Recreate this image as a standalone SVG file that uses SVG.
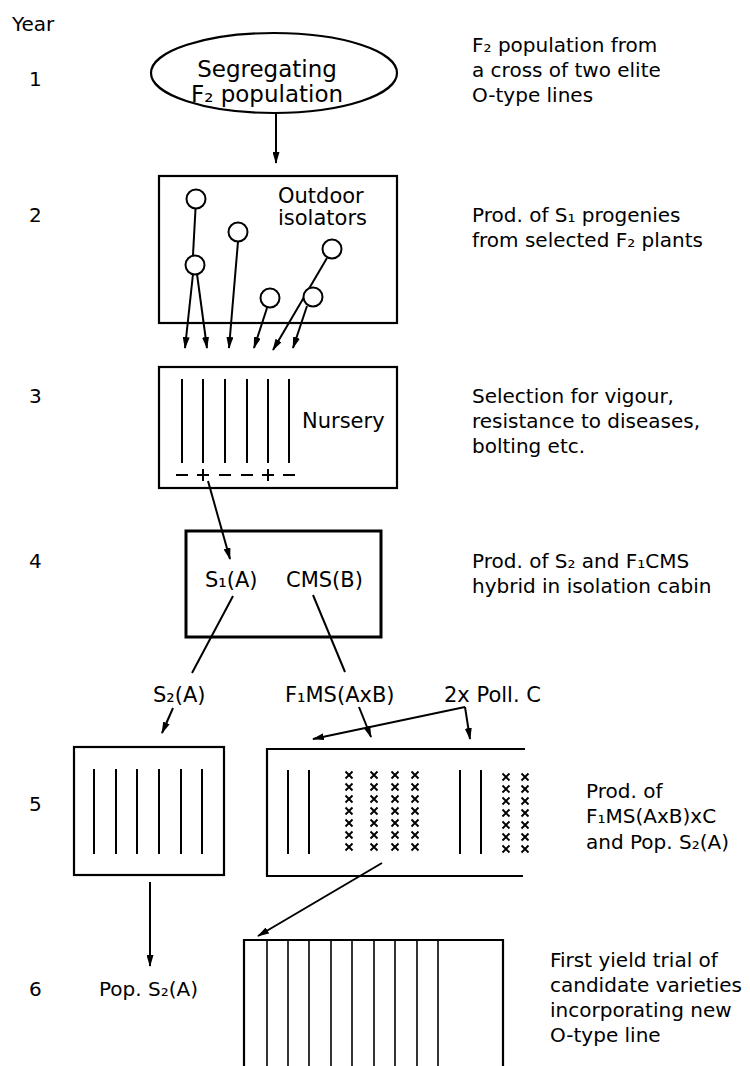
<svg xmlns="http://www.w3.org/2000/svg" width="750" height="1066" viewBox="0 0 750 1066">
<defs>
<marker id="ah" markerWidth="12" markerHeight="7" refX="11" refY="3.5" orient="auto" markerUnits="userSpaceOnUse"><path d="M0,0 L12,3.5 L0,7 z" fill="#000"/></marker>
<!-- plant marker used in the hybrid seed plot -->
<path id="cross" d="M-3.5,-3.5 L3.5,3.5 M3.5,-3.5 L-3.5,3.5" stroke="#000" stroke-width="1.9" fill="none"/>
</defs>
<style>
text{font-family:"DejaVu Sans",Verdana,sans-serif;font-size:20px;fill:#000}
.lbl{font-size:21px}
.big{font-size:23px;text-anchor:middle}
.box{fill:none;stroke:#000;stroke-width:2.2}
.heavy{fill:none;stroke:#000;stroke-width:3}
.row{stroke:#000;stroke-width:2}
.thin{stroke:#000;stroke-width:1.6}
.con{stroke:#000;stroke-width:2;fill:none}
.arr{marker-end:url(#ah)}
.plant{fill:#fff;stroke:#000;stroke-width:2}
</style>
<rect width="750" height="1066" fill="#fff"/>

<!-- year column -->
<g id="years">
<text x="12" y="31">Year</text>
<text x="29" y="86">1</text>
<text x="29" y="222">2</text>
<text x="29" y="403">3</text>
<text x="29" y="568">4</text>
<text x="29" y="811">5</text>
<text x="29" y="996">6</text>
</g>

<!-- connectors -->
<g id="connectors">
<line class="con arr" x1="276" y1="113" x2="276" y2="163"/>
<line class="con" x1="195.5" y1="209" x2="193" y2="255"/>
<line class="con arr" x1="193" y1="274" x2="185" y2="348"/>
<line class="con arr" x1="197" y1="274" x2="207" y2="348"/>
<line class="con arr" x1="238" y1="241.5" x2="229" y2="348"/>
<line class="con arr" x1="267" y1="308" x2="254" y2="348"/>
<line class="con arr" x1="327" y1="258" x2="273" y2="350"/>
<line class="con arr" x1="307" y1="306" x2="293" y2="348"/>
<line class="con arr" x1="208" y1="481" x2="230" y2="559"/>
<line class="con" x1="233" y1="596" x2="192" y2="673"/>
<line class="con" x1="313" y1="595" x2="345" y2="672"/>
<line class="con arr" x1="173" y1="708" x2="162" y2="733"/>
<line class="con arr" x1="359" y1="707" x2="371" y2="737"/>
<line class="con arr" x1="465" y1="707" x2="313" y2="739"/>
<line class="con arr" x1="465" y1="707" x2="470" y2="739"/>
<line class="con arr" x1="150" y1="882" x2="150" y2="966"/>
<line class="con arr" x1="382" y1="863" x2="258" y2="936"/>
</g>

<!-- year 1: segregating population -->
<g id="f2-population">
<ellipse cx="274" cy="73" rx="123" ry="40" class="box"/>
<text x="267" y="77" class="big">Segregating</text>
<text x="267" y="102" class="big">F₂ population</text>
</g>

<!-- year 2: outdoor isolators -->
<g id="outdoor-isolators">
<rect x="159" y="176" width="238" height="147" class="box"/>
<text x="278" y="203" class="lbl">Outdoor</text>
<text x="278" y="225" class="lbl">isolators</text>
<circle cx="196" cy="199" r="9.5" class="plant"/>
<circle cx="238" cy="232" r="9.5" class="plant"/>
<circle cx="195" cy="265" r="9.5" class="plant"/>
<circle cx="332" cy="249" r="9.5" class="plant"/>
<circle cx="270" cy="298" r="9.5" class="plant"/>
<circle cx="313" cy="297" r="9.5" class="plant"/>
</g>

<!-- year 3: nursery -->
<g id="nursery">
<rect x="159" y="367" width="238" height="121" class="box"/>
<g class="row">
<line x1="182" y1="379" x2="182" y2="463"/>
<line x1="203" y1="379" x2="203" y2="463"/>
<line x1="225" y1="379" x2="225" y2="463"/>
<line x1="247" y1="379" x2="247" y2="463"/>
<line x1="268" y1="379" x2="268" y2="463"/>
<line x1="289" y1="379" x2="289" y2="463"/>
</g>
<path class="con" stroke-width="2.6" d="M176,475 h12 M197,475 h12 M203,469 v12 M219,475 h12 M241,475 h12 M262,475 h12 M268,469 v12 M283,475 h12"/>
<text x="302" y="428" class="lbl">Nursery</text>
</g>

<!-- year 4: isolation cabin -->
<g id="isolation-cabin">
<rect x="186" y="531" width="195" height="106" class="heavy"/>
<text x="205" y="587" class="lbl">S₁(A)</text>
<text x="286" y="587" class="lbl">CMS(B)</text>
</g>

<g id="label-s2">
<text x="153" y="702" class="lbl">S₂(A)</text>
</g>
<g id="label-f1ms">
<text x="285" y="702" class="lbl">F₁MS(AxB)</text>
</g>
<g id="label-poll">
<text x="444" y="702" class="lbl">2x Poll. C</text>
</g>

<!-- year 5: S2 plot -->
<g id="s2-plot">
<rect x="74" y="747" width="150" height="128" class="box"/>
<g class="row">
<line x1="94" y1="769" x2="94" y2="854"/>
<line x1="116" y1="769" x2="116" y2="854"/>
<line x1="137" y1="769" x2="137" y2="854"/>
<line x1="159" y1="769" x2="159" y2="854"/>
<line x1="181" y1="769" x2="181" y2="854"/>
<line x1="202" y1="769" x2="202" y2="854"/>
</g>
</g>

<!-- year 5: hybrid seed plot, male rows and crossed female rows -->
<g id="hybrid-plot">
<path class="box" d="M525,749 H267 V876 H523"/>
<g class="row">
<line x1="288" y1="770" x2="288" y2="854"/>
<line x1="309" y1="770" x2="309" y2="854"/>
<line x1="460" y1="770" x2="460" y2="854"/>
<line x1="481" y1="770" x2="481" y2="854"/>
</g>
<g id="female-rows">
<use href="#cross" x="349" y="775"/><use href="#cross" x="349" y="787"/><use href="#cross" x="349" y="799"/><use href="#cross" x="349" y="811"/><use href="#cross" x="349" y="823"/><use href="#cross" x="349" y="835"/><use href="#cross" x="349" y="847"/>
<use href="#cross" x="374" y="775"/><use href="#cross" x="374" y="787"/><use href="#cross" x="374" y="799"/><use href="#cross" x="374" y="811"/><use href="#cross" x="374" y="823"/><use href="#cross" x="374" y="835"/><use href="#cross" x="374" y="847"/>
<use href="#cross" x="395" y="775"/><use href="#cross" x="395" y="787"/><use href="#cross" x="395" y="799"/><use href="#cross" x="395" y="811"/><use href="#cross" x="395" y="823"/><use href="#cross" x="395" y="835"/><use href="#cross" x="395" y="847"/>
<use href="#cross" x="415" y="775"/><use href="#cross" x="415" y="787"/><use href="#cross" x="415" y="799"/><use href="#cross" x="415" y="811"/><use href="#cross" x="415" y="823"/><use href="#cross" x="415" y="835"/><use href="#cross" x="415" y="847"/>
<use href="#cross" x="506" y="777"/><use href="#cross" x="506" y="789"/><use href="#cross" x="506" y="801"/><use href="#cross" x="506" y="813"/><use href="#cross" x="506" y="825"/><use href="#cross" x="506" y="837"/><use href="#cross" x="506" y="849"/>
<use href="#cross" x="525" y="777"/><use href="#cross" x="525" y="789"/><use href="#cross" x="525" y="801"/><use href="#cross" x="525" y="813"/><use href="#cross" x="525" y="825"/><use href="#cross" x="525" y="837"/><use href="#cross" x="525" y="849"/>
</g>
</g>

<g id="pop-s2">
<text x="99" y="996">Pop. S₂(A)</text>
</g>

<!-- year 6: yield trial -->
<g id="yield-trial">
<path class="box" d="M244,1066 V940 H503 V1066"/>
<g class="thin">
<line x1="267" y1="940" x2="267" y2="1066"/>
<line x1="288" y1="940" x2="288" y2="1066"/>
<line x1="309" y1="940" x2="309" y2="1066"/>
<line x1="331" y1="940" x2="331" y2="1066"/>
<line x1="352" y1="940" x2="352" y2="1066"/>
<line x1="374" y1="940" x2="374" y2="1066"/>
<line x1="395" y1="940" x2="395" y2="1066"/>
<line x1="417" y1="940" x2="417" y2="1066"/>
<line x1="438" y1="940" x2="438" y2="1066"/>
</g>
</g>

<!-- descriptions per year -->
<g id="notes">
<text x="472" y="52">F₂ population from</text>
<text x="472" y="77">a cross of two elite</text>
<text x="472" y="102">O-type lines</text>
<text x="472" y="222">Prod. of S₁ progenies</text>
<text x="472" y="247">from selected F₂ plants</text>
<text x="472" y="403">Selection for vigour,</text>
<text x="472" y="428">resistance to diseases,</text>
<text x="472" y="453">bolting etc.</text>
<text x="472" y="568">Prod. of S₂ and F₁CMS</text>
<text x="472" y="593">hybrid in isolation cabin</text>
<text x="586" y="798">Prod. of</text>
<text x="586" y="823">F₁MS(AxB)xC</text>
<text x="586" y="849">and Pop. S₂(A)</text>
<text x="550" y="967">First yield trial of</text>
<text x="550" y="992">candidate varieties</text>
<text x="550" y="1017">incorporating new</text>
<text x="550" y="1042">O-type line</text>
</g>
</svg>
